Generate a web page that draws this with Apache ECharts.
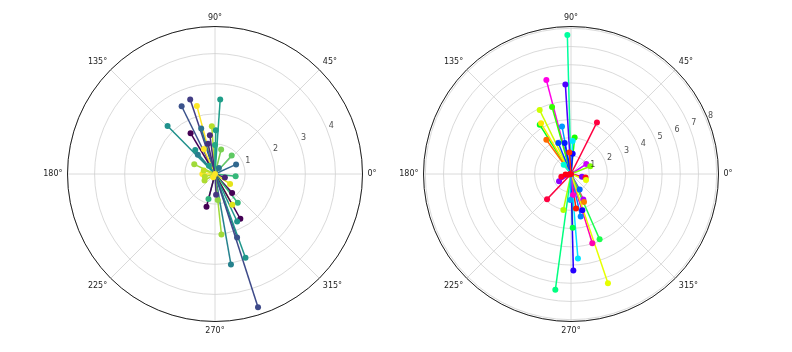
<!DOCTYPE html>
<html>
<head>
<meta charset="utf-8">
<script src="https://cdn.jsdelivr.net/npm/echarts@6/dist/echarts.min.js"></script>
<style>
  html, body { margin: 0; padding: 0; background: #fff; }
  #main { width: 792px; height: 352px; }
</style>
</head>
<body>
<div id="main"></div>
<script>
  // left panel (viridis colours)
  var leftR = [2.48, 2.61, 2.51, 2.34, 2.24, 1.59, 1.45, 1.58, 1.58, 1.30, 0.96, 0.84, 1.03, 0.86, 0.91, 0.83, 0.77, 0.76, 0.69, 0.42,
               0.39, 0.41, 0.35, 0.60, 0.85, 1.22, 1.17, 0.86, 1.12, 1.71, 1.74, 2.02, 2.23, 2.96, 3.05, 4.65, 0.87, 0.69, 0.35, 0.34,
               1.03, 0.24, 0.12]
  var leftTheta = [86, 108.4, 116.2, 104.9, 134.7, 93.8, 88.9, 106.9, 120.9, 97.5, 90, 76, 129.6, 131.6, 114, 48, 24.5, 155, 353.6, 180,
                   163, 212, 340, 326.6, 312, 308.3, 299.4, 255.4, 255.4, 299.5, 295, 276.1, 289.2, 290, 280, 287.9, 275.9, 273, 194.5, 126.5,
                   103, 57.4, 240]
  var leftColors = ['#1f9e89', '#433e85', '#3b528b', '#fde725', '#21918c', '#b5de2b', '#1f9e89', '#2c728e', '#440154', '#472c7a',
                    '#22a884', '#7ad151', '#1f968b', '#287d8e', '#fde725', '#5ec962', '#31688e', '#a0da39', '#35b779', '#fde725',
                    '#c2df23', '#addc30', '#482475', '#e5e419', '#440154', '#35b779', '#dde318', '#2fb47c', '#440154', '#440154',
                    '#1f968b', '#a0da39', '#3b528b', '#1f968b', '#26828e', '#3e4a89', '#8fd744', '#453781', '#b5de2b', '#1f9e89',
                    '#46307e', '#2a788e', '#fde725']

  // right panel (hsv colours)
  var rightR = [7.64, 5.33, 4.93, 3.91, 3.82, 3.20, 3.23, 3.17, 2.66, 2.32, 2.02, 1.81, 1.84, 1.74, 1.12, 1.19, 0.65, 1.0, 1.14, 0.62,
                0.82, 0.89, 0.77, 0.55, 0.30, 1.91, 0.98, 1.55, 1.69, 1.92, 2.09, 2.40, 2.02, 2.96, 3.91, 3.98, 4.66, 5.30, 6.33, 6.42,
                1.16, 1.43, 0.10]
  var rightTheta = [91.5, 104.7, 93.6, 116.1, 105.8, 122.4, 120.6, 63.3, 100.7, 125.7, 84.3, 87.1, 112.2, 101.5, 85.3, 94.4, 128, 33, 22, 346,
                    346, 338, 211.4, 195.4, 185, 226.5, 299, 295.9, 295, 278.2, 287.3, 282.8, 258, 271.8, 293.7, 287.1, 274.7, 271.4, 288.7, 262.3,
                    275.4, 268.5, 200]
  var rightColors = ['#00ff9f', '#ff00e6', '#4d00ff', '#ccff00', '#33ff00', '#00ff1f', '#ffe600', '#ff0040', '#0099ff', '#ff6a00',
                     '#1aff00', '#00e6ff', '#0040ff', '#001aff', '#0d00ff', '#ff3300', '#00ffd5', '#cc00ff', '#80ff00', '#8000ff',
                     '#ff0d1a', '#e6ff00', '#8c00ff', '#ff0026', '#ff0010', '#ff0040', '#0066ff', '#b300ff', '#ff8000', '#ff1a00',
                     '#1a00ff', '#0080ff', '#b3ff00', '#00ff40', '#1aff4d', '#ff00b3', '#00e6ff', '#2600ff', '#e6ff00', '#00ff80',
                     '#ff00cc', '#00aaff', '#ff0018']

  var leftTicks = [1, 2, 3, 4]
  var rightTicks = [1, 2, 3, 4, 5, 6, 7, 8]
  var labelAngle = 22.5

  function makeSeries(rs, ths, cols, idx) {
    var out = []
    for (var i = 0; i < rs.length; i++) {
      out.push({
        type: 'line',
        coordinateSystem: 'polar',
        polarIndex: idx,
        symbol: 'circle',
        symbolSize: 6,
        showSymbol: true,
        silent: true,
        lineStyle: { color: cols[i], width: 1.5 },
        itemStyle: { color: cols[i] },
        data: [[0, 0], [rs[i], ths[i]]]
      })
    }
    return out
  }

  function tickLabels(ticks, idx) {
    return {
      type: 'scatter',
      coordinateSystem: 'polar',
      polarIndex: idx,
      symbolSize: 0,
      silent: true,
      z: 10,
      label: {
        show: true,
        position: 'inside',
        offset: [5, -2],
        fontSize: 8,
        color: '#222',
        fontFamily: 'DejaVu Sans',
        formatter: function (p) { return p.value[0] }
      },
      data: ticks.map(function (t) { return [t, labelAngle] })
    }
  }

  function angleAxis(idx) {
    return {
      polarIndex: idx,
      type: 'value',
      min: 0,
      max: 360,
      interval: 45,
      startAngle: 0,
      clockwise: false,
      axisLine: { lineStyle: { color: '#222', width: 1 } },
      axisTick: { show: false },
      axisLabel: {
        margin: 5,
        fontSize: 8,
        color: '#222',
        fontFamily: 'DejaVu Sans',
        formatter: function (v) { return v === 360 ? '' : v + '°' }
      },
      splitLine: { lineStyle: { color: '#d0d0d0', width: 0.8 } }
    }
  }

  function radiusAxis(idx, max) {
    return {
      polarIndex: idx,
      type: 'value',
      min: 0,
      max: max,
      interval: 1,
      axisLine: { show: false },
      axisTick: { show: false },
      axisLabel: { show: false },
      splitLine: { lineStyle: { color: '#d0d0d0', width: 0.8 } }
    }
  }

  var chart = echarts.init(document.getElementById('main'))
  var series = makeSeries(leftR, leftTheta, leftColors, 0)
    .concat(makeSeries(rightR, rightTheta, rightColors, 1))
  series.push(tickLabels(leftTicks, 0))
  series.push(tickLabels(rightTicks, 1))

  chart.setOption({
    animation: false,
    backgroundColor: '#fff',
    polar: [
      { center: [215, 174], radius: 147.5 },
      { center: [571, 174], radius: 147.5 }
    ],
    angleAxis: [angleAxis(0), angleAxis(1)],
    radiusAxis: [radiusAxis(0, 4.9), radiusAxis(1, 8.1)],
    series: series
  })
</script>
</body>
</html>
